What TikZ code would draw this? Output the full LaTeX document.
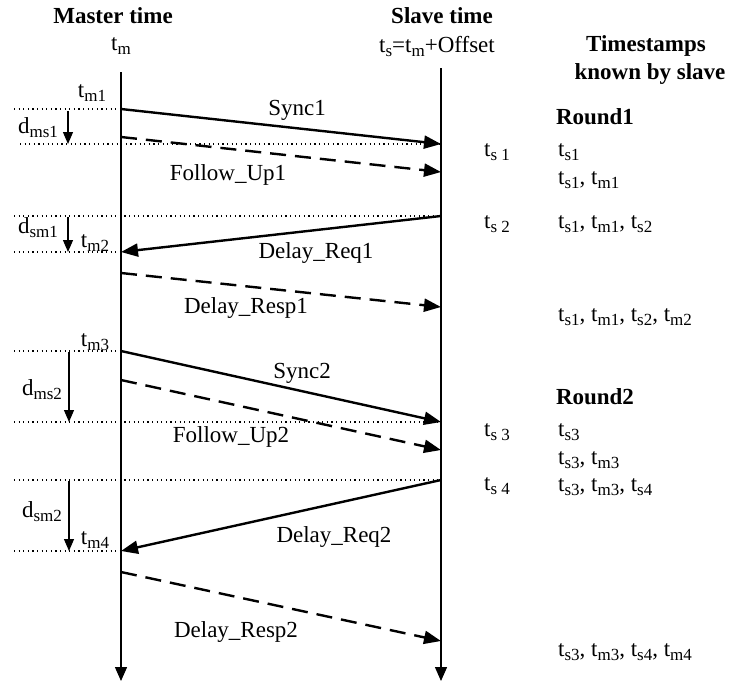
\documentclass[tikz,border=0pt]{standalone}
\usepackage{fontspec}
\setmainfont{Liberation Serif}
\usetikzlibrary{arrows.meta}
\newcommand{\sbx}[1]{\raisebox{-4pt}{\fontsize{17}{17}\selectfont #1}}
\begin{document}
\begin{tikzpicture}[x=1pt,y=-1pt,
  txt/.style={inner sep=0pt, font=\fontsize{23}{26}\selectfont},
  bold/.style={inner sep=0pt, font=\fontsize{23}{26}\selectfont\bfseries},
  col/.style={txt, anchor=west},
  timeline/.style={line width=1.4pt, -{Triangle[length=14pt,width=12pt]}},
  msg/.style={line width=2.4pt, -{Triangle[length=17pt,width=13pt]}},
  msgd/.style={msg, dash pattern=on 16pt off 9pt},
  dots/.style={line width=1.1pt, dash pattern=on 1.1pt off 3.5pt},
  darr/.style={line width=1.3pt, -{Triangle[length=12pt,width=10pt]}}
]
\useasboundingbox (0,0) rectangle (729,686);

% headers
\node[bold] (mt) at (113,16) {Master time};
\node[bold] (st) at (442,16) {Slave time};
\node[txt] (tm) at (121,46) {t\sbx{m}};
\node[txt] (ts) at (437,46) {t\sbx{s}=t\sbx{m}+Offset};
\node[bold] (hd1) at (646,46) {Timestamps};
\node[bold] (hd2) at (650,74) {known by slave};

% time lines
\coordinate (mtop) at (121,72);
\coordinate (mbot) at (121,681);
\coordinate (stop) at (441,68);
\coordinate (sbot) at (441,681);
\draw[timeline] (mtop) -- (mbot);
\draw[timeline] (stop) -- (sbot);

% message end points
\coordinate (a1) at (121,109); \coordinate (b1) at (441,144);
\coordinate (a2) at (121,137); \coordinate (b2) at (441,172);
\coordinate (b3) at (441,216); \coordinate (a3) at (121,252);
\coordinate (a4) at (121,273); \coordinate (b4) at (441,307);
\coordinate (a5) at (121,351); \coordinate (b5) at (441,422);
\coordinate (a6) at (121,380); \coordinate (b6) at (441,450);
\coordinate (b7) at (441,480); \coordinate (a7) at (121,551);
\coordinate (a8) at (121,572); \coordinate (b8) at (441,641);

% dotted reference lines
\coordinate (l1) at (14,109);
\coordinate (l2) at (20,144);
\coordinate (l3) at (14,216);
\coordinate (l4) at (14,252);
\coordinate (l5) at (14,351);
\coordinate (l6) at (14,422);
\coordinate (l7) at (14,480);
\coordinate (l8) at (14,551);
\draw[dots] (l1) -- (a1);
\draw[dots] (l2) -- (b1);
\draw[dots] (l3) -- (b3);
\draw[dots] (l4) -- (a3);
\draw[dots] (l5) -- (a5);
\draw[dots] (l6) -- (b5);
\draw[dots] (l7) -- (b7);
\draw[dots] (l8) -- (a7);

% messages
\draw[msg]  (a1) -- (b1);
\draw[msgd] (a2) -- (b2);
\draw[msg]  (b3) -- (a3);
\draw[msgd] (a4) -- (b4);
\draw[msg]  (a5) -- (b5);
\draw[msgd] (a6) -- (b6);
\draw[msg]  (b7) -- (a7);
\draw[msgd] (a8) -- (b8);

\node[txt] (n1) at (297,110) {Sync1};
\node[txt] (n2) at (228,175) {Follow\_Up1};
\node[txt] (n3) at (316,253) {Delay\_Req1};
\node[txt] (n4) at (246,308) {Delay\_Resp1};
\node[txt] (n5) at (302,373) {Sync2};
\node[txt] (n6) at (231,437) {Follow\_Up2};
\node[txt] (n7) at (334,537) {Delay\_Req2};
\node[txt] (n8) at (236,632) {Delay\_Resp2};

% delay arrows on the left
\coordinate (d1s) at (68,111); \coordinate (d1e) at (68,144);
\coordinate (d2s) at (68,217); \coordinate (d2e) at (68,252);
\coordinate (d3s) at (69,352); \coordinate (d3e) at (69,422);
\coordinate (d4s) at (69,481); \coordinate (d4e) at (69,551);
\draw[darr] (d1s) -- (d1e);
\draw[darr] (d2s) -- (d2e);
\draw[darr] (d3s) -- (d3e);
\draw[darr] (d4s) -- (d4e);

\node[txt] (tm1) at (92,93) {t\sbx{m1}};
\node[txt] (dms1) at (38,128) {d\sbx{ms1}};
\node[txt] (dsm1) at (38,228) {d\sbx{sm1}};
\node[txt] (tm2) at (95,243) {t\sbx{m2}};
\node[txt] (tm3) at (95,342) {t\sbx{m3}};
\node[txt] (dms2) at (42,390) {d\sbx{ms2}};
\node[txt] (dsm2) at (42,512) {d\sbx{sm2}};
\node[txt] (tm4) at (95,540) {t\sbx{m4}};

% slave timestamps
\node[txt] (ts1) at (497,152) {t\sbx{s 1}};
\node[txt] (ts2) at (497,224) {t\sbx{s 2}};
\node[txt] (ts3) at (497,432) {t\sbx{s 3}};
\node[txt] (ts4) at (497,486) {t\sbx{s 4}};

% known timestamps
\node[bold] (r1) at (595,117) {Round1};
\node[col] (k1) at (558,152) {t\sbx{s1}};
\node[col] (k2) at (558,180) {t\sbx{s1}, t\sbx{m1}};
\node[col] (k3) at (558,224) {t\sbx{s1}, t\sbx{m1}, t\sbx{s2}};
\node[col] (k4) at (558,317) {t\sbx{s1}, t\sbx{m1}, t\sbx{s2}, t\sbx{m2}};
\node[bold] (r2) at (595,397) {Round2};
\node[col] (k5) at (558,432) {t\sbx{s3}};
\node[col] (k6) at (558,460) {t\sbx{s3}, t\sbx{m3}};
\node[col] (k7) at (558,487) {t\sbx{s3}, t\sbx{m3}, t\sbx{s4}};
\node[col] (k8) at (558,652) {t\sbx{s3}, t\sbx{m3}, t\sbx{s4}, t\sbx{m4}};
\end{tikzpicture}
\end{document}
